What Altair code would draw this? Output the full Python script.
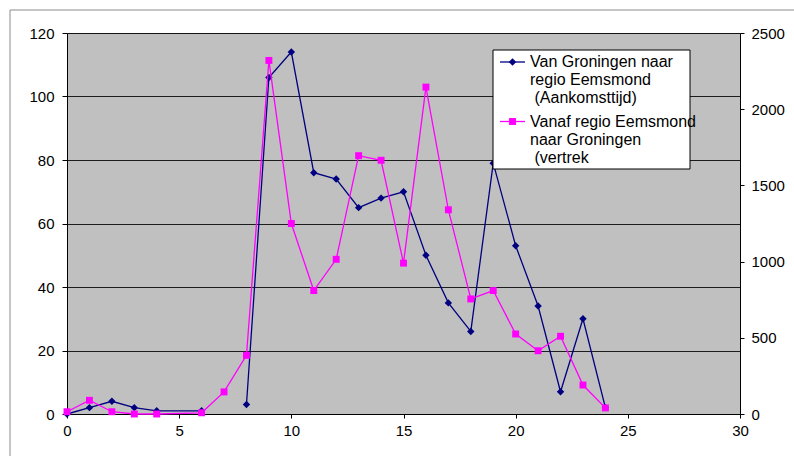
import altair as alt
import pandas as pd

# ---- data ----
uur_a = [0, 1, 2, 3, 4, 6, 8, 9, 10, 11, 12, 13, 14, 15, 16, 17, 18, 19, 20, 21, 22, 23, 24]
van_groningen = [0, 2, 4, 2, 1, 1, 3, 106, 114, 76, 74, 65, 68, 70, 50, 35, 26, 79, 53, 34, 7, 30, 2]
deel_a = ["a"] * 6 + ["b"] * 17

uur_b = [0, 1, 2, 3, 4, 6, 7, 8, 9, 10, 11, 12, 13, 14, 15, 16, 17, 18, 19, 20, 21, 22, 23, 24]
vanaf_eemsmond = [15, 90, 15, 0, 0, 8, 145, 385, 2320, 1250, 810, 1015, 1695, 1665, 990,
                  2145, 1340, 755, 810, 525, 415, 510, 190, 40]

x_ticks = [0, 5, 10, 15, 20, 25, 30]
left_ticks = [0, 20, 40, 60, 80, 100, 120]
right_ticks = [0, 500, 1000, 1500, 2000, 2500]

legend_1 = ["Van Groningen naar", "regio Eemsmond"]
legend_1b = "(Aankomsttijd)"
legend_2 = ["Vanaf regio Eemsmond", "naar Groningen"]
legend_2b = "(vertrek"

NAVY = "#000080"
MAGENTA = "#ff00ff"
FONT = "Liberation Sans"

df_a = pd.DataFrame({"uur": uur_a, "aantal": van_groningen, "deel": deel_a})
df_b = pd.DataFrame({"uur": uur_b, "aantal": vanaf_eemsmond})

W, H = 673, 381

x_enc = alt.X("uur:Q", scale=alt.Scale(domain=[0, 30], nice=False, zero=False),
              axis=alt.Axis(values=x_ticks, grid=False, title=None, format="d",
                            labelPadding=5, tickSize=4, labelFlush=False))

y_left = alt.Y("aantal:Q", scale=alt.Scale(domain=[0, 120], nice=False),
               axis=alt.Axis(values=left_ticks, orient="left", grid=True, gridColor="#000000",
                             gridOpacity=0.85, title=None, tickSize=5, labelPadding=8,
                             format="d", labelFlush=False))
y_right = alt.Y("aantal:Q", scale=alt.Scale(domain=[0, 2500], nice=False),
                axis=alt.Axis(values=right_ticks, orient="right", grid=False, title=None,
                              tickSize=4, labelPadding=7, format="d", labelFlush=False))

base_a = alt.Chart(df_a).encode(x=x_enc, y=y_left)
navy_line = base_a.mark_line(color=NAVY, strokeWidth=1.3).encode(detail="deel:N")
navy_pts = base_a.mark_point(shape="diamond", filled=True, size=55, color=NAVY, opacity=1)

base_b = alt.Chart(df_b).encode(x=x_enc, y=y_right)
mag_line = base_b.mark_line(color=MAGENTA, strokeWidth=1.3)
mag_pts = base_b.mark_point(shape="square", filled=True, size=48, color=MAGENTA, opacity=1)

one = alt.Data(values=[{}])

frame = alt.Chart(one).mark_rect(fillOpacity=0, stroke="#8c8c8c", strokeWidth=1).encode(
    x=alt.value(-57), x2=alt.value(740), y=alt.value(-23), y2=alt.value(430))

leg_box = alt.Chart(one).mark_rect(fill="white", stroke="black", strokeWidth=1).encode(
    x=alt.value(426), x2=alt.value(623), y=alt.value(17), y2=alt.value(136))
leg_rule1 = alt.Chart(one).mark_rule(color=NAVY, strokeWidth=1.3).encode(
    x=alt.value(433), x2=alt.value(458), y=alt.value(29))
leg_pt1 = alt.Chart(one).mark_point(shape="diamond", filled=True, size=55, color=NAVY, opacity=1).encode(
    x=alt.value(445.5), y=alt.value(29))
leg_rule2 = alt.Chart(one).mark_rule(color=MAGENTA, strokeWidth=1.3).encode(
    x=alt.value(433), x2=alt.value(458), y=alt.value(88.5))
leg_pt2 = alt.Chart(one).mark_point(shape="square", filled=True, size=48, color=MAGENTA, opacity=1).encode(
    x=alt.value(445.5), y=alt.value(88.5))


def leg_text(lines, x, y):
    return alt.Chart(one).mark_text(align="left", baseline="alphabetic", lineHeight=18,
                                    fontSize=16, font=FONT, color="black").encode(
        x=alt.value(x), y=alt.value(y), text=alt.value(lines))


leg_txt1 = leg_text(legend_1, 463, 33.5)
leg_txt1b = leg_text(legend_1b, 467.5, 69.5)
leg_txt2 = leg_text(legend_2, 463, 93.5)
leg_txt2b = leg_text(legend_2b, 467.5, 129.5)

series = alt.layer(
    alt.layer(navy_line, navy_pts),
    alt.layer(mag_line, mag_pts),
).resolve_scale(y="independent")

chart = alt.layer(
    frame, series, leg_box, leg_rule1, leg_pt1, leg_rule2, leg_pt2,
    leg_txt1, leg_txt1b, leg_txt2, leg_txt2b
).properties(
    width=W, height=H,
    autosize=alt.AutoSizeParams(type="none"),
    padding={"left": 67, "top": 33, "right": 54, "bottom": 42},
    background="white",
).configure_view(
    fill="#c0c0c0", stroke="#808080", strokeWidth=1
).configure_axis(
    domainColor="black", tickColor="black", labelColor="black",
    labelFont=FONT, labelFontSize=15, domainWidth=1, tickWidth=1,
)

chart.save("out.html", embed_options={"renderer": "svg", "actions": False})
